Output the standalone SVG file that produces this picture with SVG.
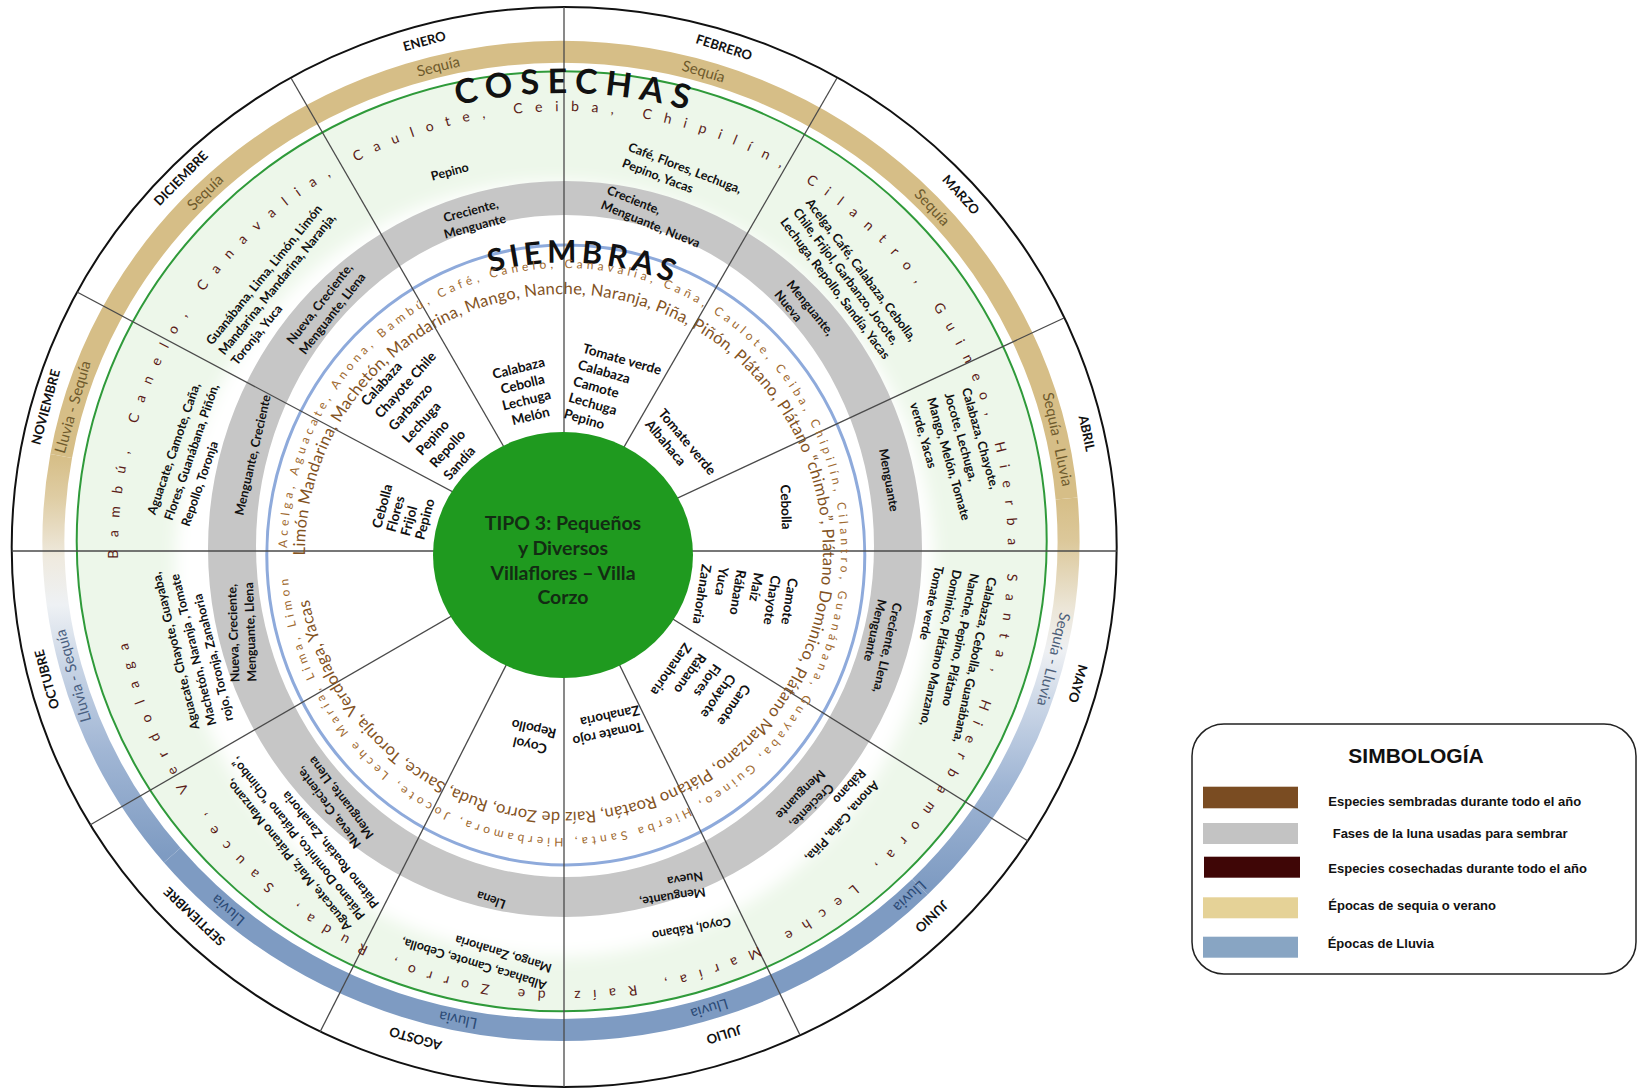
<svg xmlns="http://www.w3.org/2000/svg" width="1640" height="1091" viewBox="0 0 1640 1091">
<style>
text{font-family:Lato,"Open Sans","Liberation Sans",sans-serif}
.b{font-weight:700;fill:#111}
.in{font-size:13.5px}
.gr{font-size:12.5px}
.hv{font-size:12.5px}
.m{text-anchor:middle}
.mo{font-size:13px;font-weight:700;fill:#111;text-anchor:middle}
.se{font-size:15px;text-anchor:middle;fill:#6e5a2c}
.ll{fill:#2b4a75}
.lg{font-family:"Liberation Sans",Arial,sans-serif;font-weight:700;font-size:13px;fill:#111}
.sep{stroke:#4a4a4a;stroke-width:1.3;fill:none}
.band{fill:none;stroke-width:22}
</style>
<defs>
<filter id="soft" x="-10%" y="-10%" width="120%" height="120%"><feGaussianBlur stdDeviation="8"/></filter>
<linearGradient id="gR" gradientUnits="userSpaceOnUse" x1="0" y1="498" x2="0" y2="887">
<stop offset="0" stop-color="#d6be87"/><stop offset="0.11" stop-color="#dcc89a"/><stop offset="0.285" stop-color="#ece6d8"/><stop offset="0.393" stop-color="#eef0f3"/><stop offset="0.54" stop-color="#c9d5e6"/><stop offset="0.74" stop-color="#9fb5d4"/><stop offset="1" stop-color="#7e9bc2"/>
</linearGradient>
<linearGradient id="gL" gradientUnits="userSpaceOnUse" x1="0" y1="456" x2="0" y2="855">
<stop offset="0" stop-color="#d6be87"/><stop offset="0.105" stop-color="#dfcda4"/><stop offset="0.256" stop-color="#efeadf"/><stop offset="0.373" stop-color="#eef1f4"/><stop offset="0.53" stop-color="#c8d4e5"/><stop offset="0.73" stop-color="#a2b7d5"/><stop offset="1" stop-color="#7e9bc2"/>
</linearGradient>
<path id="pH" d="M118.1,558.7 A445,440 0 0 1 778.7,166.2 A445,440 0 0 1 792.2,928.2 A445,440 0 0 1 118.1,558.7"/>
<path id="pB" d="M305.0,555.3 A259,259 0 0 1 691.5,327.6 A259,259 0 0 1 695.4,776.2 A259,259 0 0 1 305.0,555.3"/>
<path id="pS" d="M287.0,548.0 A277,285 0 0 1 706.7,308.7 A277,285 0 0 1 698.3,802.3 A277,285 0 0 1 287.0,548.0"/>
<path id="pC" d="M457.4,105.3 A459,459 0 0 1 734.9,126.4"/>
<path id="pSi" d="M490.4,272.3 A289,289 0 0 1 686.1,289.1"/>
</defs>

<!-- rings -->
<g id="rings">
<ellipse cx="564.2" cy="547" rx="552.5" ry="540" fill="#fff" stroke="#111" stroke-width="2"/>
<path class="band" stroke="#d6be87" d="M61.2,456.1 A507.5,489 0 0 1 1066.6,498.4"/>
<path class="band" stroke="url(#gR)" d="M1066.6,498.4 A507.5,489 0 0 1 919.9,886.8"/>
<path class="band" stroke="#7e9bc2" d="M919.9,886.8 A507.5,489 0 0 1 172.2,855.3"/>
<path class="band" stroke="url(#gL)" d="M172.2,855.3 A507.5,489 0 0 1 61.2,456.1"/>
<ellipse cx="561.7" cy="541.3" rx="485" ry="470" fill="#edf7ea"/>
<ellipse cx="555" cy="569" rx="380" ry="388" fill="#fff" filter="url(#soft)"/>
<path fill="#c6c6c6" fill-rule="evenodd" d="M208,549 a357,368 0 1 0 714,0 a357,368 0 1 0 -714,0 Z M256,546 a309,331 0 1 0 618,0 a309,331 0 1 0 -618,0 Z"/>
<ellipse cx="561.7" cy="541.3" rx="485" ry="470" fill="none" stroke="#2f9a3a" stroke-width="2"/>
<ellipse cx="565.8" cy="555" rx="299" ry="310" fill="none" stroke="#8eaadb" stroke-width="3"/>
</g>

<!-- sector dividers -->
<g id="connectors" class="sep">
<line x1="564" y1="7" x2="564" y2="1087"/>
<line x1="11.7" y1="551" x2="1116.7" y2="551"/>
<line x1="564" y1="551" x2="837" y2="78"/>
<line x1="564" y1="551" x2="1064" y2="318"/>
<line x1="564" y1="551" x2="1028" y2="841"/>
<line x1="564" y1="551" x2="800" y2="1035"/>
<line x1="564" y1="551" x2="320" y2="1032"/>
<line x1="564" y1="551" x2="90" y2="825"/>
<line x1="564" y1="551" x2="77" y2="292"/>
<line x1="564" y1="551" x2="291" y2="78"/>
</g>

<g id="center">
<ellipse cx="563" cy="555" rx="130" ry="123" fill="#1f9a1f"/>
<text class="m" font-size="19.5" font-weight="700" fill="#132c13"><tspan x="563" y="530">TIPO 3: Pequeños</tspan><tspan x="563" y="555">y Diversos</tspan><tspan x="563" y="579.5">Villaflores – Villa</tspan><tspan x="563" y="603.5">Corzo</tspan></text>
</g>

<!-- month labels -->
<g id="months">
<text class="mo" transform="translate(425.6,45.5) rotate(-15)">ENERO</text>
<text class="mo" transform="translate(722.7,51.8) rotate(17.5)">FEBRERO</text>
<text class="mo" transform="translate(957.6,197.8) rotate(48)">MARZO</text>
<text class="mo" transform="translate(1082.4,434.3) rotate(78)">ABRIL</text>
<text class="mo" transform="translate(1073.4,682.4) rotate(106)">MAYO</text>
<text class="mo" transform="translate(928.5,913.1) rotate(136.5)">JUNIO</text>
<text class="mo" transform="translate(722.7,1030.2) rotate(162.5)">JULIO</text>
<text class="mo" transform="translate(416.7,1034.1) rotate(196)">AGOSTO</text>
<text class="mo" transform="translate(197.5,913.1) rotate(223.5)">SEPTIEMBRE</text>
<text class="mo" transform="translate(51.3,678.1) rotate(254.5)">OCTUBRE</text>
<text class="mo" transform="translate(50.1,408.2) rotate(285)">NOVIEMBRE</text>
<text class="mo" transform="translate(184.2,181.4) rotate(314.5)">DICIEMBRE</text>
</g>

<!-- season labels -->
<g id="seasons">
<text class="se" transform="translate(439.4,71.4) rotate(-14)">Sequía</text>
<text class="se" transform="translate(702.1,76.5) rotate(16.3)">Sequía</text>
<text class="se" transform="translate(928.5,210.9) rotate(47)">Sequía</text>
<text class="se" transform="translate(1052.5,440.4) rotate(78)">Sequía - Lluvia</text>
<text class="se" style="fill:#4d5f7a" transform="translate(1048.6,658.1) rotate(104)">Sequía - Lluvia</text>
<text class="se ll" transform="translate(906.3,892.7) rotate(136.6)">Lluvia</text>
<text class="se ll" transform="translate(707.9,1003.9) rotate(163)">Lluvia</text>
<text class="se ll" transform="translate(459.1,1014.9) rotate(191.7)">Lluvia</text>
<text class="se ll" transform="translate(231.3,906.3) rotate(221)">Lluvia</text>
<text class="se" style="fill:#4a5f80" transform="translate(78,674.4) rotate(254)">Lluvia - Sequía</text>
<text class="se" transform="translate(77.7,408.4) rotate(285.9)">Lluvia - Sequía</text>
<text class="se" transform="translate(208.8,195.8) rotate(315.5)">Sequía</text>
</g>

<!-- ring titles and year-round species -->
<g id="titles">
<text class="b" font-size="34"><textPath href="#pC" textLength="232" lengthAdjust="spacing">COSECHAS</textPath></text>
<text class="b" font-size="31"><textPath href="#pSi" textLength="184" lengthAdjust="spacing">SIEMBRAS</textPath></text>
<text font-size="14" fill="#5b1c18"><textPath href="#pH" textLength="2695" lengthAdjust="spacing">Bambú, Canelo, Canavalia, Caulote, Ceiba, Chipilín, Cilantro, Guineo, Hierba Santa, Hierbamora, Leche María, Raíz de Zorro, Ruda, Sauce, Verdolaga</textPath></text>
<text font-size="16.5" fill="#83531f"><textPath href="#pB" textLength="1582" lengthAdjust="spacing">Limón Mandarina, Machetón, Mandarina, Mango, Nanche, Naranja, Piña, Piñón, Plátano, Plátano “chimbo”, Plátano Dominico, Plátano Manzano, Plátano Roatán, Raíz de Zorro, Ruda, Sauce, Toronja, Verdolaga, Yacas</textPath></text>
<text font-size="12" fill="#a06a30"><textPath href="#pS" textLength="1735" lengthAdjust="spacing">Acelga, Aguacate, Anona, Bambú, Café, Canelo, Canavalia, Caña, Caulote, Ceiba, Chipilín, Cilantro, Guanábana, Guayaba, Guineo, Hierba Santa, Hierbamora, Jocote, Leche María, Lima, Limon</textPath></text>
</g>

<!-- sowing sectors -->
<g id="sow-ene" transform="translate(519.7,372.6) rotate(-14)"><text class="b in m"><tspan x="0">Calabaza</tspan><tspan x="0" dy="16.5">Cebolla</tspan><tspan x="0" dy="16.5">Lechuga</tspan><tspan x="0" dy="16.5">Melón</tspan></text></g>
<g id="sow-feb" transform="translate(581.7,352.5) rotate(16)"><text class="b in"><tspan x="0">Tomate verde</tspan><tspan x="0" dy="17">Calabaza</tspan><tspan x="0" dy="17">Camote</tspan><tspan x="0" dy="17">Lechuga</tspan><tspan x="0" dy="17">Pepino</tspan></text></g>
<g id="sow-mar" transform="translate(657.4,413.7) rotate(50)"><text class="b in"><tspan x="0">Tomate verde</tspan><tspan x="0" dy="17">Albahaca</tspan></text></g>
<g id="sow-abr" transform="translate(781.3,507.2) rotate(88)"><text class="b in m">Cebolla</text></g>
<g id="sow-may" transform="translate(788.5,577.5) rotate(99)"><text class="b in"><tspan x="0">Camote</tspan><tspan x="0" dy="17.5">Chayote</tspan><tspan x="0" dy="17.5">Maíz</tspan><tspan x="0" dy="17.5">Rábano</tspan><tspan x="0" dy="17.5">Yuca</tspan><tspan x="0" dy="17.5">Zanahoria</tspan></text></g>
<g id="sow-jun" transform="translate(743.6,683.3) rotate(125)"><text class="b in"><tspan x="0">Camote</tspan><tspan x="0" dy="18">Chayote</tspan><tspan x="0" dy="18">Flores</tspan><tspan x="0" dy="18">Rábano</tspan><tspan x="0" dy="18">Zanahoria</tspan></text></g>
<g id="sow-jul" transform="translate(642,722) rotate(168)"><text class="b in"><tspan x="0">Tomate rojo</tspan><tspan x="0" dy="17">Zanahoria</tspan></text></g>
<g id="sow-ago" transform="translate(531,740.8) rotate(193)"><text class="b in m"><tspan x="0">Coyol</tspan><tspan x="0" dy="17">Repollo</tspan></text></g>
<g id="sow-nov" transform="translate(381,529) rotate(-75)"><text class="b in"><tspan x="0">Cebolla</tspan><tspan x="0" dy="14.8">Flores</tspan><tspan x="0" dy="14.8">Frijol</tspan><tspan x="0" dy="14.8">Pepino</tspan></text></g>
<g id="sow-dic" transform="translate(367.1,406.7) rotate(-48)"><text class="b in"><tspan x="0">Calabaza</tspan><tspan x="0" dy="18.5">Chayote Chile</tspan><tspan x="0" dy="18.5">Garbanzo</tspan><tspan x="0" dy="18.5">Lechuga</tspan><tspan x="0" dy="18.5">Pepino</tspan><tspan x="0" dy="18.5">Repollo</tspan><tspan x="0" dy="18.5">Sandía</tspan></text></g>

<!-- moon phases -->
<g id="moon-ene" transform="translate(471.9,215) rotate(-15)"><text class="b gr m"><tspan x="0">Creciente,</tspan><tspan x="0" dy="16">Menguante</tspan></text></g>
<g id="moon-feb" transform="translate(606.1,193.5) rotate(22)"><text class="b gr"><tspan x="0">Creciente,</tspan><tspan x="0" dy="16">Menguante, Nueva</tspan></text></g>
<g id="moon-mar" transform="translate(786.1,284.8) rotate(51)"><text class="b gr"><tspan x="0">Menguante,</tspan><tspan x="0" dy="16">Nueva</tspan></text></g>
<g id="moon-abr" transform="translate(884.6,480.8) rotate(80)"><text class="b gr m">Menguante</text></g>
<g id="moon-may" transform="translate(893.6,602) rotate(103)"><text class="b gr"><tspan x="0">Creciente, Llena,</tspan><tspan x="0" dy="16">Menguante</tspan></text></g>
<g id="moon-jun" transform="translate(808.8,802.8) rotate(135)"><text class="b gr m"><tspan x="0">Creciente,</tspan><tspan x="0" dy="16">Menguante</tspan></text></g>
<g id="moon-jul" transform="translate(704.7,887.4) rotate(171)"><text class="b gr"><tspan x="0">Menguante,</tspan><tspan x="0" dy="16">Nueva</tspan></text></g>
<g id="moon-ago" transform="translate(492.5,895.8) rotate(200)"><text class="b gr m">Llena</text></g>
<g id="moon-sep" transform="translate(361.4,844.3) rotate(233)"><text class="b gr"><tspan x="0">Nueva, Creciente,</tspan><tspan x="0" dy="16">Menguante, Llena</tspan></text></g>
<g id="moon-oct" transform="translate(239.5,682) rotate(268)"><text class="b gr"><tspan x="0">Nueva, Creciente,</tspan><tspan x="0" dy="17">Menguante, Llena</tspan></text></g>
<g id="moon-nov" transform="translate(257,456) rotate(-77)"><text class="b gr m">Menguante, Creciente</text></g>
<g id="moon-dic" transform="translate(323.1,306.4) rotate(-52)"><text class="b gr m"><tspan x="0">Nueva, Creciente,</tspan><tspan x="0" dy="16">Menguante, Llena</tspan></text></g>

<!-- harvest sectors -->
<g id="harv-ene" transform="translate(450.9,175.8) rotate(-15)"><text class="b hv m">Pepino</text></g>
<g id="harv-feb" transform="translate(627.3,150.6) rotate(21)"><text class="b hv"><tspan x="0">Café, Flores, Lechuga,</tspan><tspan x="0" dy="17">Pepino, Yacas</tspan></text></g>
<g id="harv-mar" transform="translate(805.2,202.7) rotate(53)"><text class="b hv"><tspan x="0">Acelga, Café, Calabaza, Cebolla,</tspan><tspan x="0" dy="16">Chile, Frijol, Garbanzo, Jocote,</tspan><tspan x="0" dy="16">Lechuga, Repollo, Sandía, Yacas</tspan></text></g>
<g id="harv-abr" transform="translate(961.7,389.2) rotate(74)"><text class="b hv"><tspan x="0">Calabaza, Chayote,</tspan><tspan x="0" dy="18">Jocote, Lechuga,</tspan><tspan x="0" dy="18">Mango, Melón, Tomate</tspan><tspan x="0" dy="18">verde, Yacas</tspan></text></g>
<g id="harv-may" transform="translate(988.1,576.6) rotate(102)"><text class="b hv"><tspan x="0">Calabaza, Cebolla, Guanábana,</tspan><tspan x="0" dy="18">Nanche, Pepino, Plátano</tspan><tspan x="0" dy="18">Dominico, Plátano Manzano,</tspan><tspan x="0" dy="18">Tomate verde</tspan></text></g>
<g id="harv-jun" transform="translate(873.7,780) rotate(132)"><text class="b hv"><tspan x="0">Anona, Caña, Piña,</tspan><tspan x="0" dy="18">Rábano</tspan></text></g>
<g id="harv-jul" transform="translate(730,917.6) rotate(170)"><text class="b hv">Coyol, Rábano</text></g>
<g id="harv-ago" transform="translate(547.3,981.7) rotate(197)"><text class="b hv"><tspan x="0">Albahaca, Camote, Cebolla,</tspan><tspan x="0" dy="18">Mango, Zanahoria</tspan></text></g>
<g id="harv-sep" transform="translate(351.8,926.5) rotate(231)"><text class="b hv"><tspan x="0">Aguacate, Maíz, Plátano Manzano,</tspan><tspan x="0" dy="18">Plátano Dominico, Plátano “Chimbo”,</tspan><tspan x="0" dy="18">Plátano Roatán, Zanahoria</tspan></text></g>
<g id="harv-oct" transform="translate(199.4,728.4) rotate(256)"><text class="b hv"><tspan x="0">Aguacate, Chayote, Guayaba,</tspan><tspan x="0" dy="17.5">Machetón, Naranja , Tomate</tspan><tspan x="0" dy="17.5">rojo, Toronja, Zanahoria</tspan></text></g>
<g id="harv-nov" transform="translate(155.3,515.5) rotate(289)"><text class="b hv"><tspan x="0">Aguacate, Camote, Caña,</tspan><tspan x="0" dy="18">Flores, Guanábana, Piñón,</tspan><tspan x="0" dy="18">Repollo, Toronja</tspan></text></g>
<g id="harv-dic" transform="translate(212.1,345.8) rotate(309)"><text class="b hv"><tspan x="0">Guanábana, Lima, Limón, Limón</tspan><tspan x="0" dy="16">Mandarina, Mandarina, Naranja,</tspan><tspan x="0" dy="16">Toronja, Yuca</tspan></text></g>

<!-- legend -->
<g id="legend">
<rect x="1192" y="724" width="444" height="250" rx="32" fill="#fff" stroke="#222" stroke-width="1.5"/>
<text class="lg" x="1416" y="763" text-anchor="middle" style="font-size:21px">SIMBOLOGÍA</text>
<rect x="1203" y="786.7" width="95" height="21.6" fill="#7a4c22"/>
<rect x="1203" y="823" width="95" height="21" fill="#c3c3c3"/>
<rect x="1204" y="856.7" width="96" height="21" fill="#3f0606"/>
<rect x="1203" y="897.3" width="95" height="21" fill="#e5d297"/>
<rect x="1203" y="936.7" width="95" height="21" fill="#88a5c3"/>
<text class="lg" x="1328.3" y="806">Especies  sembradas durante todo el año</text>
<text class="lg" x="1332.7" y="838">Fases de la luna usadas para sembrar</text>
<text class="lg" x="1328.3" y="873">Especies  cosechadas  durante todo el año</text>
<text class="lg" x="1328.3" y="910">Épocas de sequia o verano</text>
<text class="lg" x="1327.7" y="948">Épocas de Lluvia</text>
</g>
</svg>
